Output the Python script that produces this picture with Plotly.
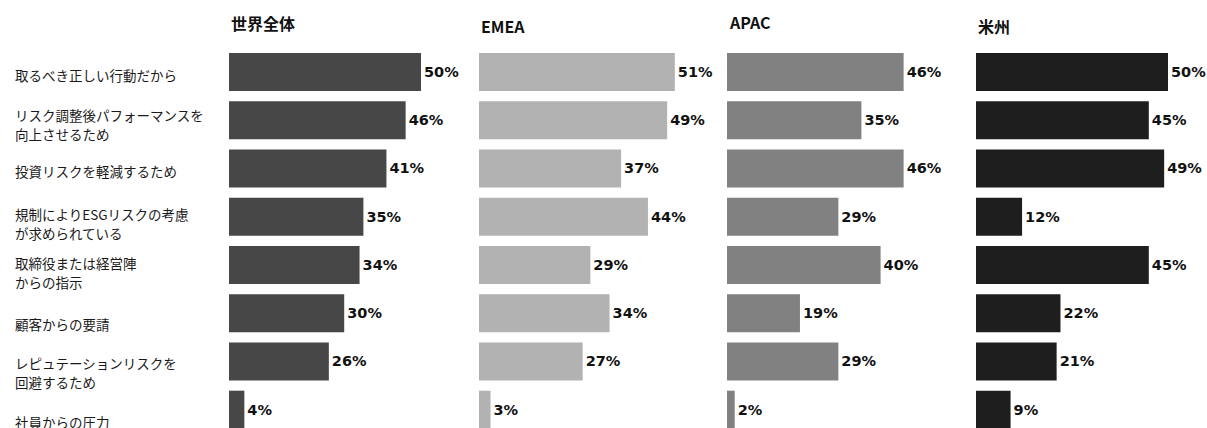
import plotly.graph_objects as go

# Reasons for considering ESG risk, by region (% of respondents)
reasons = [
    "取るべき正しい行動だから",
    "リスク調整後パフォーマンスを\n向上させるため",
    "投資リスクを軽減するため",
    "規制によりESGリスクの考慮\nが求められている",
    "取締役または経営陣\nからの指示",
    "顧客からの要請",
    "レピュテーションリスクを\n回避するため",
    "社員からの圧力",
]
regions = ["世界全体", "EMEA", "APAC", "米州"]
global_vals = [50, 46, 41, 35, 34, 30, 26, 4]
emea_vals = [51, 49, 37, 44, 29, 34, 27, 3]
apac_vals = [46, 35, 46, 29, 40, 19, 29, 2]
americas_vals = [50, 45, 49, 12, 45, 22, 21, 9]

series = [global_vals, emea_vals, apac_vals, americas_vals]
colors = ["#474747", "#b2b2b2", "#818181", "#1e1e1e"]

W, H = 1207, 428
panel_left_px = [229, 479, 727, 976]
panel_width_px = 230
px_per_pct = 3.84
row_pitch_px = 48.24
first_row_px = 72

# label vertical nudges (px), line spacing, and title heights (px from top)
label_shift = [-3, -4.5, -3, -7, -8, -11, -11.5, -12]
line_gap_px = 19
title_y_px = [23, 26, 22, 26]

fig = go.Figure()
idx = list(range(len(reasons)))

for i, (vals, col) in enumerate(zip(series, colors)):
    xa = "x" if i == 0 else f"x{i + 1}"
    fig.add_trace(go.Bar(
        x=vals, y=idx, orientation="h",
        marker=dict(color=col, line=dict(width=0)),
        text=[f"{v}%" for v in vals],
        textposition="outside",
        textfont=dict(family="DejaVu Sans", size=14.5, color="#111111", weight="bold"),
        constraintext="none",
        cliponaxis=False,
        xaxis=xa, yaxis="y",
        hoverinfo="skip",
        showlegend=False,
    ))
    key = "xaxis" if i == 0 else f"xaxis{i + 1}"
    x0 = panel_left_px[i] / W
    x1 = (panel_left_px[i] + panel_width_px) / W
    fig.layout[key] = dict(
        domain=[x0, min(x1, 1)], range=[0, panel_width_px / px_per_pct],
        visible=False, fixedrange=True, anchor="y",
    )
    fig.add_annotation(
        text=f"<b>{regions[i]}</b>", xref="paper", yref="paper",
        x=x0, y=1 - title_y_px[i] / H, xanchor="left", yanchor="middle",
        showarrow=False,
        font=dict(family="Noto Sans CJK JP", size=16, color="#111111"),
    )

y_top = -first_row_px / row_pitch_px
y_bot = (H - first_row_px) / row_pitch_px
fig.update_layout(
    yaxis=dict(range=[y_bot, y_top], visible=False, fixedrange=True, domain=[0, 1]),
    bargap=1 - 38 / row_pitch_px,
    width=W, height=H,
    margin=dict(l=0, r=0, t=0, b=0),
    paper_bgcolor="white", plot_bgcolor="white",
)

# category labels, one annotation per text line
for k, lab in enumerate(reasons):
    lines = lab.split("\n")
    n = len(lines)
    for j, line in enumerate(lines):
        offset = ((n - 1) / 2 - j) * line_gap_px
        fig.add_annotation(
            text=line, xref="paper", yref="y", x=13 / W, y=k,
            xanchor="left", yanchor="middle", align="left",
            yshift=label_shift[k] + offset, showarrow=False,
            font=dict(family="Noto Sans CJK JP", size=13.5, color="#1a1a1a"),
        )

fig.write_html("out.html", config={"displayModeBar": False})
